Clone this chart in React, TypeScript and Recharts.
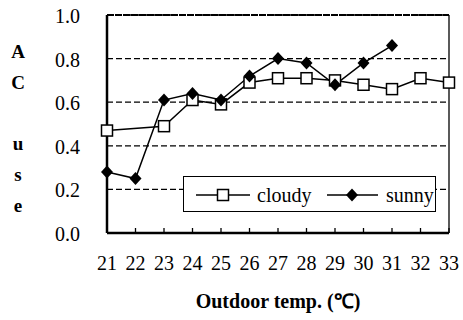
import React from "react";
import {
  LineChart,
  Line,
  XAxis,
  YAxis,
  CartesianGrid,
  ReferenceLine,
} from "recharts";

const temps = [21, 22, 23, 24, 25, 26, 27, 28, 29, 30, 31, 32, 33];
const cloudy = [0.47, null, 0.49, 0.61, 0.59, 0.69, 0.71, 0.71, 0.7, 0.68, 0.66, 0.71, 0.69];
const sunny = [0.28, 0.25, 0.61, 0.64, 0.61, 0.72, 0.8, 0.78, 0.68, 0.78, 0.86, null, null];
const yTicks = [0, 0.2, 0.4, 0.6, 0.8, 1.0];
const yTitle = ["A", "C", "", "u", "s", "e"];
const seriesNames = ["cloudy", "sunny"];

const data = temps.map((t, i) => ({ t, cloudy: cloudy[i], sunny: sunny[i] }));

const FONT = "Liberation Serif";

function Square(props: any) {
  const { cx, cy } = props;
  if (cx == null || cy == null || props.value == null) return null;
  return (
    <rect x={cx - 5.5} y={cy - 5.5} width={11} height={11} fill="#fff" stroke="#000" strokeWidth={1.5} />
  );
}

function Diamond(props: any) {
  const { cx, cy } = props;
  if (cx == null || cy == null || props.value == null) return null;
  return (
    <path d={`M${cx},${cy - 6.5}L${cx + 6},${cy}L${cx},${cy + 6.5}L${cx - 6},${cy}Z`} fill="#000" />
  );
}

function XTick(props: any) {
  const { x, y, payload, index } = props;
  return (
    <g>
      {index > 0 && <line x1={x} x2={x} y1={y} y2={y - 5} stroke="#000" strokeWidth={1.3} />}
      <text x={x} y={y + 37} textAnchor="middle" fontSize={20} fontFamily={FONT} fill="#000">
        {payload.value}
      </text>
    </g>
  );
}

function YTick(props: any) {
  const { x, y, payload } = props;
  return (
    <text x={x} y={y + 8} textAnchor="end" fontSize={20} fontFamily={FONT} fill="#000">
      {payload.value.toFixed(1)}
    </text>
  );
}

function LegendBox() {
  return (
    <div
      style={{
        position: "absolute",
        left: 183,
        top: 176,
        width: 253,
        height: 36,
        border: "1.3px solid #000",
        background: "#fff",
        boxSizing: "border-box",
      }}
    >
      <svg width={253} height={36} style={{ position: "absolute", left: 0, top: 0, overflow: "visible" }}>
        <line x1={12} x2={66} y1={18} y2={18} stroke="#000" strokeWidth={1.5} />
        <rect x={33.5} y={12.5} width={11} height={11} fill="#fff" stroke="#000" strokeWidth={1.5} />
        <text x={73} y={25} fontSize={20} fontFamily={FONT} fill="#000">
          {seriesNames[0]}
        </text>
        <line x1={143} x2={194} y1={18} y2={18} stroke="#000" strokeWidth={1.5} />
        <path d="M168,11.5L174,18L168,24.5L162,18Z" fill="#000" />
        <text x={202} y={25} fontSize={20} fontFamily={FONT} fill="#000">
          {seriesNames[1]}
        </text>
      </svg>
    </div>
  );
}

export default function App() {
  return (
    <div style={{ position: "relative", width: 463, height: 320, background: "#fff" }}>
      <style>{`body{margin:0}`}</style>
      <LineChart
        width={463}
        height={320}
        data={data}
        margin={{ top: 15, right: 14, bottom: 0, left: 0 }}
      >
        <CartesianGrid vertical={false} stroke="#000" strokeWidth={1.3} strokeDasharray="6 3" />
        <XAxis
          dataKey="t"
          height={87}
          axisLine={{ stroke: "#000", strokeWidth: 2.5 }}
          tickLine={false}
          tickSize={0}
          tickMargin={0}
          interval={0}
          tick={<XTick />}
          label={{
            content: (p: any) => {
              const vb = p.viewBox;
              return (
                <text
                  x={vb.x + vb.width / 2}
                  y={vb.y + 75}
                  textAnchor="middle"
                  fontSize={20}
                  fontWeight="bold"
                  fontFamily={FONT}
                  fill="#000"
                >
                  Outdoor temp. (℃)
                </text>
              );
            },
          }}
        />
        <YAxis
          width={107}
          domain={[0, 1]}
          ticks={yTicks}
          axisLine={{ stroke: "#000", strokeWidth: 2.5 }}
          tickLine={false}
          tickSize={0}
          tickMargin={27}
          tick={<YTick />}
          label={{
            content: (p: any) => {
              const vb = p.viewBox;
              return (
                <text fontSize={19} fontWeight="bold" fontFamily={FONT} fill="#000" textAnchor="middle">
                  {yTitle.map((ch, i) => (
                    <tspan key={i} x={vb.x + 18} y={58 + i * 30.8}>
                      {ch}
                    </tspan>
                  ))}
                </text>
              );
            },
          }}
        />
        {/* top border is almost solid in the original */}
        <ReferenceLine y={1} stroke="#000" strokeWidth={2} strokeDasharray="7 1" />
        <ReferenceLine x={33} stroke="#000" strokeWidth={1.3} />
        <Line
          dataKey="cloudy"
          stroke="#000"
          strokeWidth={1.5}
          connectNulls
          dot={<Square />}
          isAnimationActive={false}
        />
        <Line
          dataKey="sunny"
          stroke="#000"
          strokeWidth={1.5}
          dot={<Diamond />}
          isAnimationActive={false}
        />
      </LineChart>
      <LegendBox />
    </div>
  );
}
